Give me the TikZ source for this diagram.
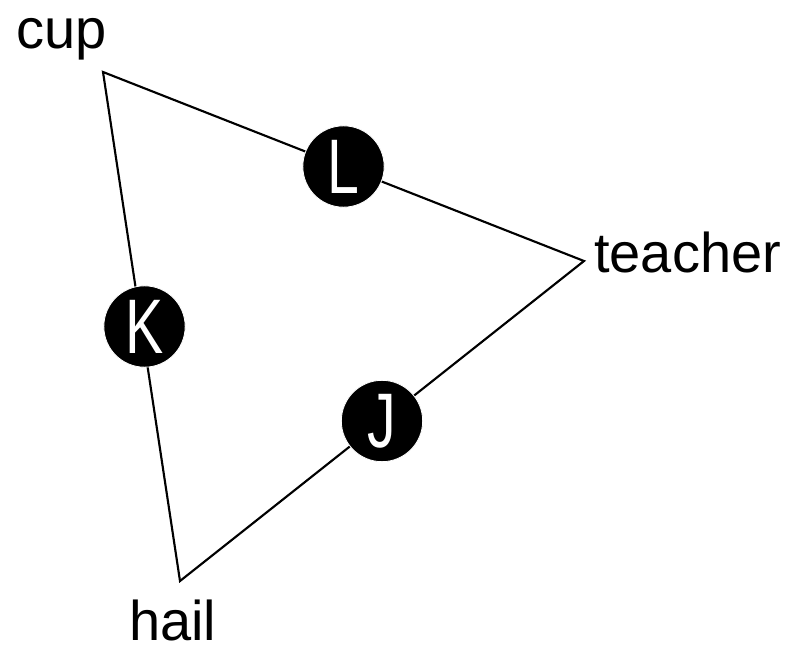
\documentclass[tikz,border=0pt]{standalone}
\usepackage{fontspec}
\setmainfont{Liberation Sans}
\usetikzlibrary{calc}
\begin{document}
\begin{tikzpicture}[x=0.75pt,y=-0.75pt,
  edge/.style={line width=1.6pt,line join=miter},
  lbl/.style={inner sep=0pt,anchor=base west,font=\fontsize{42}{42}\selectfont},
  marker/.style={circle,fill=black,draw=white,line width=0.6pt,minimum size=61pt,inner sep=0pt,
    text=white,font=\fontsize{58}{58}\selectfont}]
\useasboundingbox (0,0) rectangle (794,650);
\coordinate (cup) at (103,72);
\coordinate (teacher) at (584,261);
\coordinate (hail) at (180,581);
\draw[edge] (cup) -- (teacher) -- (hail) -- cycle;
\node[marker] (L) at ($(cup)!0.5!(teacher)$) {\scalebox{0.74}[1]{L}};
\node[marker] (J) at ($(teacher)!0.5!(hail)$) {\scalebox{0.74}[1]{J}};
\node[marker] (K) at ($(hail)!0.5!(cup)+(3,0)$) {\scalebox{0.74}[1]{K}};
\node[lbl] (tcup) at (16,48) {cup};
\node[lbl] (tteacher) at (594,272) {teacher};
\node[lbl] (thail) at (129,640) {hail};
\end{tikzpicture}
\end{document}
